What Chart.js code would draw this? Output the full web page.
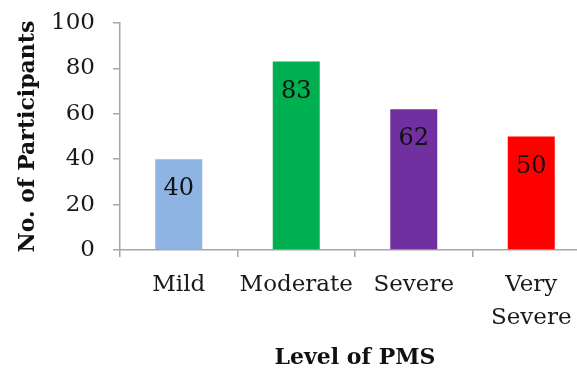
<!DOCTYPE html>
<html>
<head>
<meta charset="utf-8">
<script src="https://cdn.jsdelivr.net/npm/chart.js@4"></script>
<style>
  html, body { margin: 0; padding: 0; background: #fff; overflow: hidden; }
  #wrap { width: 577px; height: 371px; overflow: hidden; position: relative; }
  #box { width: 592px; height: 371px; position: absolute; left: 0; top: 0; }
</style>
</head>
<body>
<div id="wrap"><div id="box"><canvas id="c" width="592" height="371"></canvas></div></div>
<script>
const categories = ['Mild', 'Moderate', 'Severe', ['Very', 'Severe']];
const participants = [40, 83, 62, 50];
const barColors = ['#8EB4E3', '#00B050', '#7030A0', '#FF0000'];
const yTicks = [0, 20, 40, 60, 80, 100];
const xTitle = 'Level of PMS';
const yTitle = 'No. of Participants';

const FONT = "'DejaVu Serif', serif";

const valueLabels = {
  id: 'valueLabels',
  afterDatasetsDraw(chart) {
    const ctx = chart.ctx;
    const meta = chart.getDatasetMeta(0);
    ctx.save();
    ctx.font = "24px " + FONT;
    ctx.fillStyle = '#111';
    ctx.textAlign = 'center';
    ctx.textBaseline = 'middle';
    meta.data.forEach((bar, i) => {
      ctx.fillText(String(participants[i]), bar.x, bar.y + 30);
    });
    ctx.restore();
  }
};

new Chart(document.getElementById('c'), {
  type: 'bar',
  data: {
    labels: categories,
    datasets: [{
      data: participants,
      backgroundColor: barColors,
      borderWidth: 0,
      barPercentage: 0.8,
      categoryPercentage: 0.5
    }]
  },
  options: {
    responsive: false,
    animation: false,
    devicePixelRatio: 1,
    layout: { padding: { left: 8, top: 23, right: 2, bottom: 0 } },
    plugins: { legend: { display: false }, tooltip: { enabled: false } },
    scales: {
      x: {
        offset: true,
        grid: { display: true, drawOnChartArea: false, offset: true, tickLength: 7, color: '#A6A6A6', lineWidth: 1.5 },
        border: { display: true, color: '#A6A6A6', width: 1.5 },
        ticks: { color: '#1a1a1a', font: { family: FONT, size: 23, lineHeight: 1.43 }, padding: 12, maxRotation: 0, autoSkip: false },
        title: { display: true, text: xTitle, color: '#111', font: { family: FONT, size: 22, weight: 'bold' }, padding: { top: 8, bottom: 0 } },
        afterFit(scale) { scale.height = 121; scale.paddingLeft = 0; scale.paddingRight = 0; }
      },
      y: {
        min: 0, max: 100,
        afterBuildTicks(scale) { scale.ticks = yTicks.map(v => ({ value: v })); },
        grid: { display: true, drawOnChartArea: false, tickLength: 7, color: '#A6A6A6', lineWidth: 1.5 },
        border: { display: true, color: '#A6A6A6', width: 1.5 },
        ticks: { color: '#1a1a1a', font: { family: FONT, size: 23 }, padding: 18 },
        title: { display: true, text: yTitle, color: '#111', font: { family: FONT, size: 22, weight: 'bold' }, padding: { top: 7, bottom: 0 } },
        afterFit(scale) { scale.width = 112; scale.paddingTop = 0; scale.paddingBottom = 0; }
      }
    }
  },
  plugins: [valueLabels]
});
</script>
</body>
</html>
